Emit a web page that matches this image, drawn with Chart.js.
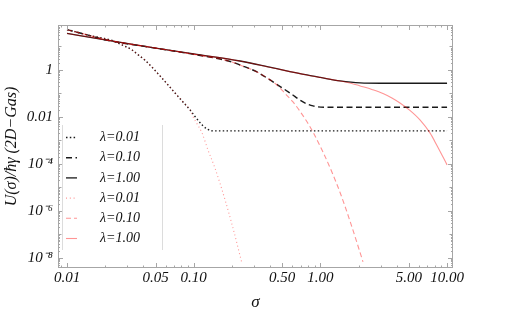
<!DOCTYPE html>
<html>
<head>
<meta charset="utf-8">
<script src="https://cdn.jsdelivr.net/npm/chart.js@4"></script>
<style>
  body { margin: 0; background: #fff; }
  #wrap { width: 507px; height: 314px; }
</style>
</head>
<body>
<div id="wrap"><canvas id="myChart"></canvas></div>
<script>
// series: sigma and U(sigma)/hbar*gamma
const lambdaLabels = ['λ=0.01', 'λ=0.10', 'λ=1.00'];

const sigmaBlack001 = [0.01, 0.0152, 0.0227, 0.0272, 0.0326, 0.0363, 0.0413, 0.0542, 0.0712, 0.0823, 0.0936, 0.1024, 0.1163, 0.1273, 0.142, 0.2, 0.5, 1, 2, 5, 10];
const uBlack001 = [53, 29, 18, 11.6, 7.1, 4.5, 2.6, 0.56, 0.105, 0.0435, 0.0199, 0.0105, 0.0046, 0.0031, 0.00255, 0.00254, 0.00254, 0.00254, 0.00254, 0.00254, 0.00254];

const sigmaBlack010 = [0.01, 0.0152, 0.02, 0.05, 0.1, 0.2, 0.232, 0.316, 0.423, 0.575, 0.729, 0.875, 1.13, 2, 5, 10];
const uBlack010 = [52, 29, 19.3, 8.5, 4.6, 2.2, 1.63, 0.82, 0.309, 0.105, 0.0435, 0.0294, 0.0259, 0.0258, 0.0258, 0.0258];

const sigmaBlack100 = [0.01, 0.02, 0.05, 0.1, 0.232, 0.423, 0.784, 1.0, 1.43, 2.06, 3, 5, 10];
const uBlack100 = [36, 19.3, 8.6, 4.8, 2.41, 1.22, 0.613, 0.48, 0.34, 0.28, 0.272, 0.272, 0.272];

const sigmaRed001 = [0.01, 0.0152, 0.0227, 0.0272, 0.0326, 0.0363, 0.0413, 0.0542, 0.0712, 0.0823, 0.0936, 0.1, 0.106, 0.1163, 0.1297, 0.147, 0.177, 0.204, 0.24];
const uRed001 = [53, 29, 18, 11.6, 7.1, 4.5, 2.6, 0.56, 0.105, 0.0435, 0.0199, 0.009, 0.0052, 0.00209, 3.9e-4, 6.8e-5, 2.9e-6, 1.9e-7, 6.1e-9];

const sigmaRed010 = [0.01, 0.0152, 0.02, 0.05, 0.1, 0.2, 0.232, 0.316, 0.423, 0.454, 0.526, 0.608, 0.784, 0.875, 1.048, 1.235, 1.43, 1.71, 2.17];
const uRed010 = [52, 29, 19.3, 8.5, 4.6, 2.2, 1.63, 0.82, 0.309, 0.23, 0.1, 0.0435, 0.00625, 0.00225, 3.24e-4, 4.4e-5, 6.1e-6, 3.8e-7, 6.8e-9];

const sigmaRed100 = [0.01, 0.02, 0.05, 0.1, 0.232, 0.423, 0.784, 1.0, 1.43, 1.77, 2.06, 2.55, 3.12, 3.67, 4.25, 5.09, 6.11, 7.33, 8.32, 10];
const uRed100 = [36, 19.3, 8.6, 4.8, 2.41, 1.22, 0.613, 0.48, 0.34, 0.267, 0.209, 0.148, 0.1, 0.0644, 0.0394, 0.0189, 0.00745, 0.00209, 6.1e-4, 9.1e-5];

const xTickValues = [0.01, 0.05, 0.1, 0.5, 1, 5, 10];
const xTickLabels = ['0.01', '0.05', '0.10', '0.50', '1.00', '5.00', '10.00'];
const yTickValues = [1, 0.01, 1e-4, 1e-6, 1e-8];
const yTickLabels = ['1', '0.01', '10⁻⁴', '10⁻⁶', '10⁻⁸'];

const pts = (xs, ys) => xs.map((v, i) => ({ x: v, y: ys[i] }));
const findTick = (vals, v) => vals.findIndex(t => Math.abs(Math.log10(t) - Math.log10(v)) < 1e-6);

const black = '#1a1a1a';
const red = 'rgba(255, 0, 0, 0.42)';
const font = 'Liberation Serif';

function logTicks(scale) {
  const vals = [];
  for (let e = -10; e <= 2; e++) {
    for (let m = 1; m <= 9; m++) {
      const v = m * Math.pow(10, e);
      if (v >= scale.min && v <= scale.max) vals.push(v);
    }
  }
  scale.ticks = vals.map(v => ({ value: v }));
}

const frameTicks = {
  id: 'frameTicks',
  afterDraw(chart) {
    const { ctx, chartArea: a, scales: { x, y } } = chart;
    ctx.save();
    ctx.strokeStyle = '#a6a6a6';
    ctx.lineWidth = 1;
    ctx.strokeRect(a.left + 0.5, a.top + 0.5, a.right - a.left - 1, a.bottom - a.top - 1);
    ctx.beginPath();
    x.ticks.forEach(t => {
      const px = Math.round(x.getPixelForValue(t.value)) + 0.5;
      const len = findTick(xTickValues, t.value) >= 0 ? 5 : 2.5;
      ctx.moveTo(px, a.bottom); ctx.lineTo(px, a.bottom - len);
      ctx.moveTo(px, a.top); ctx.lineTo(px, a.top + len);
    });
    y.ticks.forEach(t => {
      const py = Math.round(y.getPixelForValue(t.value)) + 0.5;
      const dec = Math.abs(Math.log10(t.value) - Math.round(Math.log10(t.value))) < 1e-6;
      const len = findTick(yTickValues, t.value) >= 0 ? 5 : (dec ? 3.5 : 2);
      ctx.moveTo(a.left, py); ctx.lineTo(a.left + len, py);
      ctx.moveTo(a.right, py); ctx.lineTo(a.right - len, py);
    });
    ctx.stroke();
    ctx.restore();
  }
};

const insetLegend = {
  id: 'insetLegend',
  afterDraw(chart) {
    const { ctx } = chart;
    ctx.save();
    ctx.strokeStyle = '#dcdcdc';
    ctx.lineWidth = 1;
    ctx.beginPath();
    ctx.moveTo(62.5, 125); ctx.lineTo(62.5, 250);
    ctx.moveTo(162.5, 125); ctx.lineTo(162.5, 250);
    ctx.stroke();
    chart.data.datasets.forEach((ds, i) => {
      const yy = 137.5 + i * 20.2;
      ctx.strokeStyle = ds.borderColor;
      ctx.lineWidth = ds.borderWidth;
      ctx.setLineDash(ds.borderDash || []);
      ctx.beginPath();
      ctx.moveTo(66, yy); ctx.lineTo(77, yy);
      ctx.stroke();
      ctx.setLineDash([]);
      ctx.fillStyle = '#111';
      ctx.font = 'italic 14px "' + font + '"';
      ctx.textBaseline = 'middle';
      ctx.fillText(ds.label, 100, yy);
    });
    ctx.restore();
  }
};

const line = (label, data, color, dash, width, order) => ({
  label, data, borderColor: color, borderDash: dash, borderWidth: width,
  pointRadius: 0, fill: false, cubicInterpolationMode: 'monotone', order
});

new Chart(
  document.getElementById('myChart'),
  {
    type: 'line',
    data: {
      datasets: [
        line(lambdaLabels[0], pts(sigmaBlack001, uBlack001), black, [1.5, 2.3], 1.4, 2),
        line(lambdaLabels[1], pts(sigmaBlack010, uBlack010), black, [6, 3.5], 1.4, 2),
        line(lambdaLabels[2], pts(sigmaBlack100, uBlack100), black, [], 1.3, 2),
        line(lambdaLabels[0], pts(sigmaRed001, uRed001), red, [1, 2.8], 1.1, 1),
        line(lambdaLabels[1], pts(sigmaRed010, uRed010), red, [5, 3], 1.1, 1),
        line(lambdaLabels[2], pts(sigmaRed100, uRed100), red, [], 1.1, 1)
      ]
    },
    options: {
      responsive: true,
      maintainAspectRatio: false,
      animation: false,
      layout: { padding: { top: 25, right: 54, left: 0, bottom: 0 } },
      plugins: { legend: { display: false }, tooltip: { enabled: false } },
      scales: {
        x: {
          type: 'logarithmic',
          min: 0.00849,
          max: 11.14,
          afterBuildTicks: logTicks,
          afterFit(scale) { scale.height = 46; },
          grid: { display: false, drawTicks: false },
          border: { display: false },
          ticks: {
            autoSkip: false,
            maxRotation: 0,
            padding: 1,
            color: '#111',
            font: { family: font, size: 15, style: 'italic' },
            callback: function(value) {
              const j = findTick(xTickValues, value);
              return j >= 0 ? xTickLabels[j] : '';
            }
          },
          title: {
            display: true,
            text: 'σ',
            color: '#111',
            padding: { top: 0, bottom: 1 },
            font: { family: font, size: 17, style: 'italic' }
          }
        },
        y: {
          type: 'logarithmic',
          min: 3.7e-9,
          max: 82.2,
          afterBuildTicks: logTicks,
          afterFit(scale) { scale.width = 58; },
          grid: { display: false, drawTicks: false },
          border: { display: false },
          ticks: {
            autoSkip: false,
            padding: 5,
            color: '#111',
            font: { family: font, size: 15, style: 'italic' },
            callback: function(value) {
              const j = findTick(yTickValues, value);
              return j >= 0 ? yTickLabels[j] : '';
            }
          },
          title: {
            display: true,
            text: 'U(σ)/ħγ (2D−Gas)',
            color: '#111',
            padding: { top: 2, bottom: 0 },
            font: { family: font, size: 16, style: 'italic' }
          }
        }
      }
    },
    plugins: [frameTicks, insetLegend]
  }
);
</script>
</body>
</html>
